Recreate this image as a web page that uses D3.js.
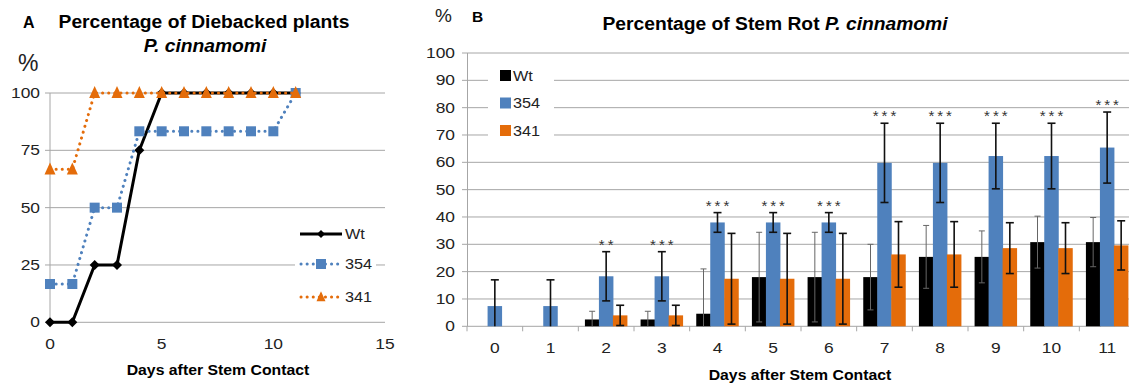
<!DOCTYPE html>
<html><head><meta charset="utf-8">
<script src="https://cdn.jsdelivr.net/npm/d3@7"></script>
<style>body{margin:0;background:#fff}svg{display:block;font-family:"Liberation Sans",Arial,sans-serif}</style>
</head><body><svg id="c" width="1129" height="385"></svg>
<script>
// ---------- Panel A data ----------
const daysA = [0,1,2,3,4,5,6,7,8,9,10,11];
const wtA   = [0,0,25,25,75,100,100,100,100,100,100,100];
const s354A = [16.7,16.7,50,50,83.3,83.3,83.3,83.3,83.3,83.3,83.3,100];
const s341A = [66.7,66.7,100,100,100,100,100,100,100,100,100,100];
const xTicksA = [0,5,10,15];
const yTicksA = [0,25,50,75,100];
const seriesNames = ["Wt","354","341"];

// ---------- Panel B data ----------
const daysB   = ["0","1","2","3","4","5","6","7","8","9","10","11"];
const wtB     = [0,0,2.5,2.5,4.6,18,18,18,25.4,25.4,30.8,30.8];
const wtErr   = [0,0,3,3,16.4,16.4,16.4,12,11.5,9.5,9.5,9];
const s354B   = [7.4,7.4,18.3,18.3,38,38,38,59.8,59.8,62.3,62.3,65.4];
const s354Err = [9.6,9.6,9,9,3.6,3.6,3.6,14.5,14.5,12,12,13];
const s341B   = [0,0,4,4,17.4,17.4,17.4,26.3,26.3,28.6,28.6,29.6];
const s341Err = [0,0,3.7,3.7,16.6,16.6,16.6,12,12,9.3,9.3,9];
const sigB    = ["","","**","***","***","***","***","***","***","***","***","***"];
const yTicksB = [0,10,20,30,40,50,60,70,80,90,100];

const BLUE = "#4f81bd", ORANGE = "#e46c0a", GRID = "#a6a6a6", TXT = "#222";
const svg = d3.select("#c");

// ================= Panel A =================
const xA = d3.scaleLinear().domain([0,15]).range([50,385]);
const yA = d3.scaleLinear().domain([0,100]).range([322.3,93]);
const gA = svg.append("g");

gA.selectAll("line.grid").data(yTicksA).join("line")
  .attr("x1",45).attr("x2",385).attr("y1",d=>yA(d)).attr("y2",d=>yA(d))
  .attr("stroke",GRID).attr("stroke-width",1);
gA.append("line").attr("x1",xA(0)).attr("x2",xA(0)).attr("y1",yA(0)).attr("y2",yA(100))
  .attr("stroke",GRID);
gA.selectAll("text.yt").data(yTicksA).join("text")
  .attr("x",40).attr("y",d=>yA(d)+5).attr("text-anchor","end")
  .attr("font-size",14.5).attr("fill",TXT).attr("data-sx",1.2).text(d=>d);
gA.selectAll("text.xt").data(xTicksA).join("text")
  .attr("x",d=>xA(d)).attr("y",349).attr("text-anchor","middle")
  .attr("font-size",14.5).attr("fill",TXT).attr("data-sx",1.2).text(d=>d);

gA.append("rect").attr("x",295).attr("y",218).attr("width",81).attr("height",95).attr("fill","#fff");

const lineA = d3.line().x((d,i)=>xA(daysA[i])).y(d=>yA(d));
const diamond = r => `M0,${-r}L${r},0L0,${r}L${-r},0Z`;
const tri = (w,h) => `M0,${-h*0.58}L${w/2},${h*0.42}L${-w/2},${h*0.42}Z`;

// Wt
gA.append("path").attr("d",lineA(wtA)).attr("fill","none").attr("stroke","#000").attr("stroke-width",3);
gA.selectAll("path.mw").data(wtA).join("path")
  .attr("transform",(d,i)=>`translate(${xA(daysA[i])},${yA(d)})`).attr("d",diamond(5)).attr("fill","#000");
// 354
gA.append("path").attr("d",lineA(s354A)).attr("fill","none").attr("stroke",BLUE).attr("stroke-width",3)
  .attr("stroke-dasharray","0.1 6").attr("stroke-linecap","round");
gA.selectAll("rect.m354").data(s354A).join("rect")
  .attr("x",(d,i)=>xA(daysA[i])-5).attr("y",d=>yA(d)-5).attr("width",10).attr("height",10).attr("fill",BLUE);
// 341
gA.append("path").attr("d",lineA(s341A)).attr("fill","none").attr("stroke",ORANGE).attr("stroke-width",3)
  .attr("stroke-dasharray","0.1 6").attr("stroke-linecap","round");
gA.selectAll("path.m341").data(s341A).join("path")
  .attr("transform",(d,i)=>`translate(${xA(daysA[i])},${yA(d)})`).attr("d",tri(11,12)).attr("fill",ORANGE);

// legend A
const legA = gA.append("g");
const legY = [234,264,297];
legA.append("line").attr("x1",300).attr("x2",342).attr("y1",legY[0]).attr("y2",legY[0]).attr("stroke","#000").attr("stroke-width",3);
legA.append("path").attr("transform",`translate(321,${legY[0]})`).attr("d",diamond(4)).attr("fill","#000");
legA.append("line").attr("x1",301).attr("x2",342).attr("y1",legY[1]).attr("y2",legY[1]).attr("stroke",BLUE).attr("stroke-width",3)
  .attr("stroke-dasharray","0.1 6").attr("stroke-linecap","round");
legA.append("rect").attr("x",316).attr("y",legY[1]-5).attr("width",10).attr("height",10).attr("fill",BLUE);
legA.append("line").attr("x1",301).attr("x2",342).attr("y1",legY[2]).attr("y2",legY[2]).attr("stroke",ORANGE).attr("stroke-width",3)
  .attr("stroke-dasharray","0.1 6").attr("stroke-linecap","round");
legA.append("path").attr("transform",`translate(321,${legY[2]})`).attr("d",tri(9,10)).attr("fill",ORANGE);
legA.selectAll("text").data(seriesNames).join("text")
  .attr("x",345).attr("y",(d,i)=>legY[i]+5).attr("font-size",14.5).attr("fill",TXT).attr("data-sx",1.12).text(d=>d);

// titles A
svg.append("text").attr("x",23).attr("y",28).attr("font-size",16).attr("font-weight","bold").text("A");
svg.append("text").attr("x",204).attr("y",28).attr("text-anchor","middle").attr("font-size",18).attr("font-weight","bold").attr("data-sx",1.07).text("Percentage of Diebacked plants");
svg.append("text").attr("x",205).attr("y",52).attr("text-anchor","middle").attr("font-size",18).attr("font-weight","bold").attr("font-style","italic").attr("data-sx",1.07).text("P. cinnamomi");
svg.append("text").attr("x",18).attr("y",71).attr("font-size",23).attr("fill",TXT).text("%");
svg.append("text").attr("x",218).attr("y",375).attr("text-anchor","middle").attr("font-size",14).attr("font-weight","bold").attr("data-sx",1.13).text("Days after Stem Contact");

// ================= Panel B =================
const xB = d3.scaleBand().domain(daysB).range([467,1135]).padding(0);
const yB = d3.scaleLinear().domain([0,100]).range([326.3,53]);
const gB = svg.append("g");
gB.selectAll("line.grid").data(yTicksB).join("line")
  .attr("x1",462).attr("x2",1129).attr("y1",d=>yB(d)).attr("y2",d=>yB(d)).attr("stroke",GRID);
gB.append("line").attr("x1",467.5).attr("x2",467.5).attr("y1",yB(0)).attr("y2",yB(100)).attr("stroke",GRID);
gB.selectAll("line.xt").data(daysB.concat(["end"])).join("line")
  .attr("x1",(d,i)=>467+i*xB.bandwidth()).attr("x2",(d,i)=>467+i*xB.bandwidth())
  .attr("y1",yB(0)).attr("y2",yB(0)+5).attr("stroke",GRID);
gB.selectAll("text.yt").data(yTicksB).join("text")
  .attr("x",455).attr("y",d=>yB(d)+5).attr("text-anchor","end").attr("font-size",14.5).attr("fill",TXT).attr("data-sx",1.2).text(d=>d);
gB.selectAll("text.xt").data(daysB).join("text")
  .attr("x",d=>xB(d)+xB.bandwidth()/2).attr("y",353).attr("text-anchor","middle").attr("font-size",14.5).attr("fill",TXT).attr("data-sx",1.2).text(d=>d);

gB.append("rect").attr("x",488).attr("y",60).attr("width",66).attr("height",82).attr("fill","#fff");

const bw = 14.5, step = 14;
const series = [
  {vals:wtB, err:wtErr, color:"#000", ecol:"#666", ew:1, cap:3},
  {vals:s354B, err:s354Err, color:BLUE, ecol:"#111", ew:1.6, cap:4},
  {vals:s341B, err:s341Err, color:ORANGE, ecol:"#111", ew:1.6, cap:4}
];
const cx = (i,k) => xB(daysB[i]) + xB.bandwidth()/2 + (k-1)*step;
series.forEach((s,k)=>{
  gB.selectAll(`rect.b${k}`).data(s.vals).join("rect")
    .attr("x",(d,i)=>cx(i,k)-bw/2).attr("width",bw)
    .attr("y",d=>yB(d)).attr("height",d=>yB(0)-yB(d)).attr("fill",s.color);
});
series.forEach((s,k)=>{
  const g = gB.append("g").attr("stroke",s.ecol).attr("stroke-width",s.ew);
  s.vals.forEach((v,i)=>{
    const e = s.err[i]; if(!e) return;
    const x = cx(i,k), top = yB(v+e), bot = yB(Math.max(0,v-e));
    g.append("line").attr("x1",x).attr("x2",x).attr("y1",top).attr("y2",bot);
    g.append("line").attr("x1",x-s.cap).attr("x2",x+s.cap).attr("y1",top).attr("y2",top);
    if (v-e>0) g.append("line").attr("x1",x-s.cap).attr("x2",x+s.cap).attr("y1",bot).attr("y2",bot);
  });
});
gB.selectAll("text.sig").data(sigB).join("text")
  .attr("x",(d,i)=>cx(i,1)+1.5).attr("y",(d,i)=>yB(s354B[i]+s354Err[i]+4)+9)
  .attr("text-anchor","middle").attr("font-size",15).attr("fill","#333").attr("letter-spacing",3).text(d=>d);

// legend B
const legBY = [70,97.5,125];
const legCols = ["#000",BLUE,ORANGE];
gB.selectAll("rect.lg").data(seriesNames).join("rect")
  .attr("x",500).attr("y",(d,i)=>legBY[i]).attr("width",11).attr("height",11).attr("fill",(d,i)=>legCols[i]);
gB.selectAll("text.lg").data(seriesNames).join("text")
  .attr("x",513).attr("y",(d,i)=>legBY[i]+11).attr("font-size",14.5).attr("fill",TXT).attr("data-sx",1.12).text(d=>d);

// titles B
svg.append("text").attr("x",435).attr("y",22).attr("font-size",19).attr("fill",TXT).text("%");
svg.append("text").attr("x",472).attr("y",22).attr("font-size",15.5).attr("font-weight","bold").text("B");
const tB = svg.append("text").attr("x",775).attr("y",30).attr("text-anchor","middle").attr("font-size",18).attr("font-weight","bold").attr("data-sx",1.07);
tB.append("tspan").text("Percentage of Stem Rot ");
tB.append("tspan").attr("font-style","italic").text("P. cinnamomi");
svg.append("text").attr("x",800).attr("y",380).attr("text-anchor","middle").attr("font-size",14).attr("font-weight","bold").attr("data-sx",1.13).text("Days after Stem Contact");

// horizontal stretch of text (reference text is slightly wide)
svg.selectAll("text[data-sx]").each(function(){
  const t = d3.select(this), x = +t.attr("x"), sx = +t.attr("data-sx");
  t.attr("transform",`translate(${x},0) scale(${sx},1) translate(${-x},0)`);
});
</script></body></html>
